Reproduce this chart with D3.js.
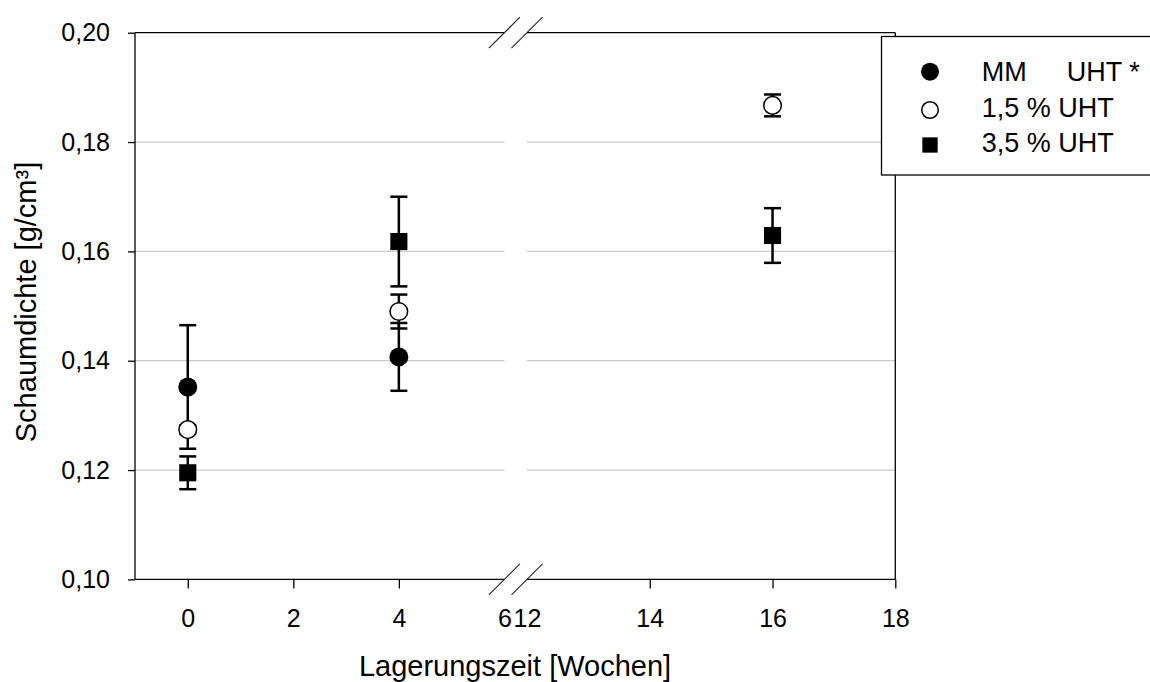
<!DOCTYPE html>
<html>
<head>
<meta charset="utf-8">
<script src="https://cdn.jsdelivr.net/npm/d3@7"></script>
<style>
  html, body { margin: 0; padding: 0; background: #fff; }
  svg { display: block; font-family: "Liberation Sans", Arial, sans-serif; }
</style>
</head>
<body>
<svg id="chart" width="1150" height="682"></svg>
<script>
// ---- data ----
const seriesNames = ["MM", "1,5 % UHT", "3,5 % UHT"];
const weeksMM = [0, 4];
const valuesMM = [0.1352, 0.1407];
const errorsMM = [0.0113, 0.0062];
const weeks15 = [0, 4, 16];
const values15 = [0.1274, 0.1490, 0.1867];
const errors15 = [0.0008, 0.0031, 0.0020];
const weeks35 = [0, 4, 16];
const values35 = [0.1195, 0.1618, 0.1629];
const errors35 = [0.0030, 0.0082, 0.0050];
const xTicksLeft = [0, 2, 4, 6];
const xTicksRight = [12, 14, 16, 18];
const yTicks = [0.10, 0.12, 0.14, 0.16, 0.18, 0.20];
const gridTicks = [0.12, 0.14, 0.16, 0.18];

// ---- layout ----
const svg = d3.select("#chart");
const plotLeft = 135, plotRight = 895.3, plotTop = 32.7, plotBottom = 579.4;
const breakL = 504.4, breakR = 527;

const xL = d3.scaleLinear().domain([-1, 6]).range([plotLeft, breakL]);
const xR = d3.scaleLinear().domain([12, 18]).range([breakR, plotRight]);
const xPos = v => (v <= 6 ? xL(v) : xR(v));
const y = d3.scaleLinear().domain([0.10, 0.20]).range([plotBottom, plotTop]);

const fmt = d => d3.format(".2f")(d).replace(".", ",");

// gridlines
const grid = svg.append("g");
gridTicks.forEach(t => {
  grid.append("line").attr("x1", plotLeft).attr("x2", breakL)
    .attr("y1", y(t)).attr("y2", y(t))
    .attr("stroke", "#cbcbcb").attr("stroke-width", 1.3);
  grid.append("line").attr("x1", breakR).attr("x2", plotRight)
    .attr("y1", y(t)).attr("y2", y(t))
    .attr("stroke", "#cbcbcb").attr("stroke-width", 1.3);
});

// axes
const tickFont = 25;
const yAxis = svg.append("g").attr("transform", `translate(${plotLeft},0)`)
  .call(d3.axisLeft(y).tickValues(yTicks).tickFormat(fmt).tickSize(7).tickPadding(18).tickSizeOuter(0));
const xAxisL = svg.append("g").attr("transform", `translate(0,${plotBottom})`)
  .call(d3.axisBottom(xL).tickValues(xTicksLeft).tickFormat(d3.format("d")).tickSize(9).tickPadding(21).tickSizeOuter(0));
const xAxisR = svg.append("g").attr("transform", `translate(0,${plotBottom})`)
  .call(d3.axisBottom(xR).tickValues(xTicksRight).tickFormat(d3.format("d")).tickSize(9).tickPadding(21).tickSizeOuter(0));

[yAxis, xAxisL, xAxisR].forEach(a => {
  a.select(".domain").remove();
  a.selectAll(".tick line").attr("stroke", "#000").attr("stroke-width", 1.3);
  a.selectAll(".tick text").attr("fill", "#000").style("font-size", tickFont + "px")
    .style("font-family", "'Liberation Sans', Arial, sans-serif");
});
// no tick marks at the break
xAxisL.selectAll(".tick").filter(d => d === 6).select("line").remove();
xAxisR.selectAll(".tick").filter(d => d === 12).select("line").remove();

// frame with breaks
const frame = svg.append("g").attr("stroke", "#000").attr("stroke-width", 1.3).attr("fill", "none");
frame.append("line").attr("x1", plotLeft).attr("x2", plotLeft).attr("y1", plotTop).attr("y2", plotBottom);
frame.append("line").attr("x1", plotRight).attr("x2", plotRight).attr("y1", plotTop).attr("y2", plotBottom);
[plotTop, plotBottom].forEach(yy => {
  frame.append("line").attr("x1", plotLeft).attr("x2", breakL).attr("y1", yy).attr("y2", yy);
  frame.append("line").attr("x1", breakR).attr("x2", plotRight).attr("y1", yy).attr("y2", yy);
  [breakL, breakR].forEach(bx => {
    svg.append("line").attr("x1", bx - 15.5).attr("y1", yy + 15.5)
      .attr("x2", bx + 15.5).attr("y2", yy - 15.5)
      .attr("stroke", "#222").attr("stroke-width", 1.1);
  });
});

// error bars
const series = [
  { w: weeksMM, v: valuesMM, e: errorsMM, type: "filledCircle" },
  { w: weeks15, v: values15, e: errors15, type: "openCircle" },
  { w: weeks35, v: values35, e: errors35, type: "square" }
];
const capHalf = 8.5;
const eb = svg.append("g").attr("stroke", "#000").attr("stroke-width", 2.5);
series.forEach(s => {
  s.w.forEach((wk, i) => {
    const cx = xPos(wk);
    const yt = y(s.v[i] + s.e[i]), yb = y(s.v[i] - s.e[i]);
    eb.append("line").attr("x1", cx).attr("x2", cx).attr("y1", yt).attr("y2", yb);
    eb.append("line").attr("x1", cx - capHalf).attr("x2", cx + capHalf).attr("y1", yt).attr("y2", yt);
    eb.append("line").attr("x1", cx - capHalf).attr("x2", cx + capHalf).attr("y1", yb).attr("y2", yb);
  });
});

// markers
function drawMarker(g, type, cx, cy, r) {
  if (type === "filledCircle") {
    g.append("circle").attr("cx", cx).attr("cy", cy).attr("r", r).attr("fill", "#000");
  } else if (type === "openCircle") {
    g.append("circle").attr("cx", cx).attr("cy", cy).attr("r", r - 0.7)
      .attr("fill", "#fff").attr("stroke", "#000").attr("stroke-width", 1.5);
  } else {
    const h = r * 0.9;
    g.append("rect").attr("x", cx - h).attr("y", cy - h).attr("width", 2 * h).attr("height", 2 * h).attr("fill", "#000");
  }
}
const mk = svg.append("g");
series.forEach(s => {
  s.w.forEach((wk, i) => drawMarker(mk, s.type, xPos(wk), y(s.v[i]), 9.5));
});

// axis titles
svg.append("text").attr("x", 515).attr("y", 676).attr("text-anchor", "middle")
  .style("font-size", "29px").attr("fill", "#000").text("Lagerungszeit [Wochen]");
svg.append("text").attr("transform", "translate(36,302) rotate(-90)").attr("text-anchor", "middle")
  .style("font-size", "29px").attr("fill", "#000").text("Schaumdichte [g/cm³]");

// legend
const lg = svg.append("g");
lg.append("rect").attr("x", 881.5).attr("y", 36.5).attr("width", 300).attr("height", 138.5)
  .attr("fill", "#fff").attr("stroke", "#000").attr("stroke-width", 1.3);
const legendRows = [
  { type: "filledCircle", cy: 71.7 },
  { type: "openCircle", cy: 110 },
  { type: "square", cy: 145 }
];
legendRows.forEach(row => {
  drawMarker(lg, row.type, 930, row.cy, row.type === "square" ? 8.5 : 9);
});
const lf = "27px";
lg.append("text").attr("x", 981.7).attr("y", 81).style("font-size", lf).text(seriesNames[0]);
lg.append("text").attr("x", 1066.7).attr("y", 81).style("font-size", lf).text("UHT *");
lg.append("text").attr("x", 981.7).attr("y", 117).style("font-size", lf).text(seriesNames[1]);
lg.append("text").attr("x", 981.7).attr("y", 152).style("font-size", lf).text(seriesNames[2]);
</script>
</body>
</html>
